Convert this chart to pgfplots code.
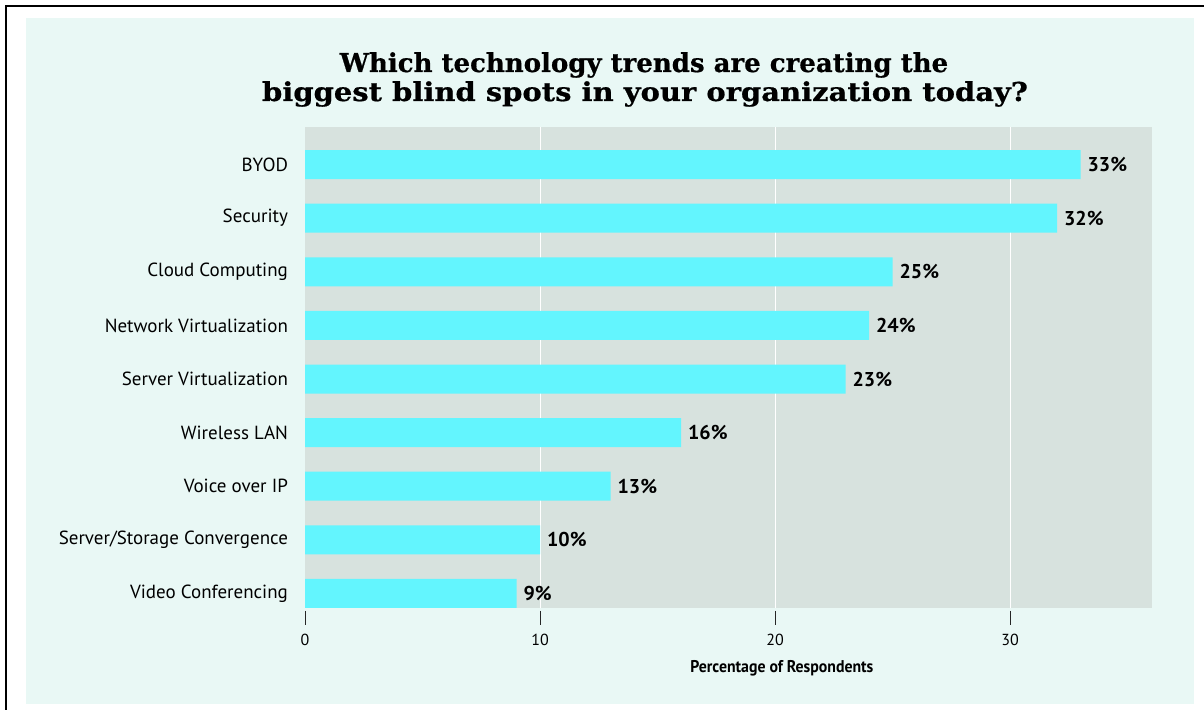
\documentclass[border=0pt]{standalone}
\usepackage{pgfplots}
\pgfplotsset{compat=1.18}
\usepackage{fontspec}
\setmainfont{PT Sans}
\newfontface\titlefont[FakeBold=0.6]{DejaVu Serif Bold}
\newfontface\titlefontw[FakeBold=0.6,FakeStretch=1.115]{DejaVu Serif Bold}
\newfontface\xlabfont[FakeStretch=0.93]{PT Sans Bold}
\newfontface\valfont{PT Sans Bold}
\definecolor{barcyan}{RGB}{99,245,254}
\definecolor{plotgray}{RGB}{215,226,222}
\definecolor{bgcyan}{RGB}{233,248,245}
\begin{document}
\begin{tikzpicture}[x=1pt,y=1pt]
\useasboundingbox (0,0) rectangle (602,355);
\fill[bgcyan] (13,3) rectangle (597,346);
\draw[black, line width=1pt] (3,0) -- (3,352) -- (602,352);
\node[anchor=base, inner sep=0pt, font=\titlefont\fontsize{13}{15}\selectfont] at (322,319) {Which technology trends are creating the};
\node[anchor=base, inner sep=0pt, font=\titlefontw\fontsize{13}{15}\selectfont] at (322.5,304.5) {biggest blind spots in your organization today?};
\begin{axis}[
  name=ax,
  at={(152.5pt,51pt)}, anchor=south west,
  scale only axis, width=423.5pt, height=240.5pt,
  xbar, bar width=14.5pt,
  xmin=0, xmax=36.04, ymin=-0.2705, ymax=8.7,
  axis background/.style={fill=plotgray},
  axis line style={draw=none},
  xtick={10,20,30}, extra x ticks={0},
  extra tick style={grid=none},
  xmajorgrids, major grid style={white, line width=0.5pt},
  tick align=outside, xtick pos=bottom, ytick pos=left,
  major tick length=7pt,
  tick style={draw=none},
  ytick={0,...,8},
  yticklabels={Video Conferencing, Server/Storage Convergence, Voice over IP, Wireless LAN, Server Virtualization, Network Virtualization, Cloud Computing, Security, BYOD},
  yticklabel style={font=\fontsize{9.5}{10}\selectfont, anchor=east, xshift=2pt},
  xticklabel style={font=\fontsize{8}{9}\selectfont, yshift=-2.5pt},
  /pgf/number format/assume math mode=true,
  xlabel={Percentage of Respondents},
  xlabel style={font=\xlabfont\fontsize{8.5}{9}\selectfont, at={(rel axis cs:0.563,0)}, anchor=base, yshift=-32.5pt, inner sep=0pt},
  nodes near coords={\pgfmathprintnumber{\pgfplotspointmeta}\%},
  nodes near coords style={font=\valfont\fontsize{10}{11}\selectfont, anchor=west, black},
]
\addplot[fill=barcyan, draw=none] coordinates {(9,0) (10,1) (13,2) (16,3) (23,4) (24,5) (25,6) (32,7) (33,8)};
\end{axis}
\draw[black!85, line width=0.5pt] ([xshift=0pt,yshift=-1.5pt]ax.south west) -- ++(0,-7);
\draw[black!85, line width=0.5pt] ([xshift=117.51pt,yshift=-1.5pt]ax.south west) -- ++(0,-7);
\draw[black!85, line width=0.5pt] ([xshift=235.02pt,yshift=-1.5pt]ax.south west) -- ++(0,-7);
\draw[black!85, line width=0.5pt] ([xshift=352.53pt,yshift=-1.5pt]ax.south west) -- ++(0,-7);
\end{tikzpicture}
\end{document}
